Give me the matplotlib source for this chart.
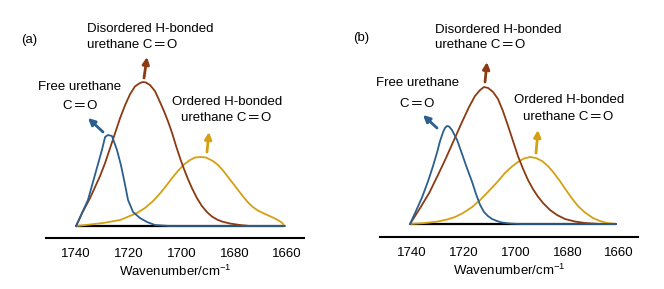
import matplotlib
matplotlib.use('Agg')
import matplotlib.pyplot as plt

plt.rcParams['font.family'] = ['Liberation Sans', 'DejaVu Sans']
plt.rcParams['mathtext.fontset'] = 'custom'
plt.rcParams['mathtext.rm'] = 'Liberation Sans'
plt.rcParams['mathtext.it'] = 'Liberation Sans:italic'

# ── Datos (panel a) ─────────────────────────────────────────────────
a_free_x = [1740, 1735.5, 1730.2, 1729.0, 1727.9, 1726.4, 1724.5, 1723.0, 1721.8,
            1720.3, 1718.4, 1715.8, 1713.1, 1710.1, 1704.4, 1661]
a_free_y = [0, 0.26, 0.76, 0.89, 0.91, 0.90, 0.76, 0.61, 0.46,
            0.26, 0.14, 0.08, 0.04, 0.01, 0, 0]

a_dis_x = [1740, 1737.7, 1734.7, 1730.9, 1729.0, 1727.1, 1725.2, 1723.3, 1721.4,
           1719.5, 1717.7, 1715.8, 1714.6, 1713.5, 1712.0, 1710.1, 1708.2, 1706.7,
           1705.2, 1703.6, 1702.1, 1700.6, 1699.1, 1697.6, 1696.1, 1694.2, 1692.3,
           1690.4, 1688.5, 1686.6, 1684.7, 1681.7, 1677.9, 1674.1, 1661]
a_dis_y = [0, 0.13, 0.28, 0.50, 0.63, 0.78, 0.93, 1.08, 1.21,
           1.32, 1.395, 1.43, 1.44, 1.435, 1.41, 1.35, 1.24, 1.15,
           1.05, 0.93, 0.80, 0.68, 0.57, 0.47, 0.38, 0.28, 0.20,
           0.14, 0.095, 0.065, 0.045, 0.025, 0.01, 0, 0]

a_ord_x = [1740, 1734.7, 1729.8, 1723.3, 1716.9, 1713.9, 1710.8, 1708.2, 1705.9,
           1703.6, 1701.4, 1699.1, 1696.8, 1694.9, 1692.7, 1690.8, 1688.1, 1686.2,
           1684.3, 1682.4, 1680.5, 1678.6, 1676.7, 1674.8, 1673.0, 1671.1, 1668.4,
           1665.8, 1663.9, 1662.0, 1661]
a_ord_y = [0, 0.015, 0.03, 0.06, 0.13, 0.18, 0.25, 0.325, 0.40,
           0.48, 0.55, 0.615, 0.66, 0.685, 0.69, 0.685, 0.65, 0.61,
           0.555, 0.49, 0.425, 0.36, 0.295, 0.235, 0.19, 0.155, 0.12,
           0.09, 0.065, 0.035, 0]

# ── Datos (panel b) ─────────────────────────────────────────────────
b_free_x = [1740.8, 1738.5, 1736.1, 1733.8, 1731.9, 1730.3, 1729.2, 1728.0, 1727.3,
            1726.5, 1725.7, 1724.6, 1722.6, 1720.7, 1718.8, 1716.8, 1715.3, 1713.7,
            1712.2, 1710.7, 1709.1, 1707.2, 1705.3, 1702.2, 1698.3, 1661.2]
b_free_y = [0, 0.13, 0.27, 0.43, 0.58, 0.72, 0.83, 0.92, 0.96,
            0.98, 0.975, 0.94, 0.84, 0.70, 0.56, 0.42, 0.30, 0.19,
            0.12, 0.08, 0.05, 0.03, 0.015, 0.005, 0, 0]

b_dis_x = [1740.8, 1736.9, 1733.4, 1730.0, 1726.9, 1723.8, 1720.7, 1718.0, 1715.7,
           1713.7, 1712.2, 1710.6, 1708.7, 1706.8, 1704.9, 1702.9, 1701.0, 1699.1,
           1697.1, 1695.2, 1693.3, 1691.4, 1689.4, 1686.7, 1684.0, 1680.9, 1677.1,
           1673.2, 1667.4, 1661.2]
b_dis_y = [0, 0.16, 0.31, 0.49, 0.66, 0.84, 1.02, 1.17, 1.28,
           1.34, 1.37, 1.36, 1.32, 1.25, 1.13, 0.98, 0.83, 0.68,
           0.55, 0.44, 0.35, 0.275, 0.21, 0.14, 0.09, 0.05, 0.025,
           0.01, 0, 0]

b_ord_x = [1740.8, 1735.0, 1730.0, 1726.5, 1723.4, 1720.3, 1716.8, 1713.7, 1710.7,
           1707.6, 1704.1, 1701.4, 1699.1, 1696.8, 1694.4, 1692.1, 1689.8, 1687.5,
           1685.2, 1682.9, 1680.5, 1678.2, 1675.9, 1673.2, 1670.1, 1667.4, 1664.7, 1661.2]
b_ord_y = [0, 0.01, 0.025, 0.045, 0.07, 0.11, 0.17, 0.24, 0.32,
           0.405, 0.51, 0.575, 0.62, 0.655, 0.67, 0.66, 0.63, 0.58,
           0.51, 0.43, 0.34, 0.255, 0.18, 0.115, 0.06, 0.03, 0.01, 0]

tick_vals = [1740, 1720, 1700, 1680, 1660]
co = 'C\u2009═\u2009O'

BLUE = '#2b5f8e'
BROWN = '#8b3a12'
GOLD = '#d4a012'
W, H = 664, 289
FS = 9.5


def fx(px):
    return px / W


def fy(py):
    return 1 - py / H


def panel(fig, rect, xlim, ylim, free, dis, ordd):
    ax = fig.add_axes(rect)
    x0, x1 = free[0][0], free[0][-1]
    ax.plot([x0, x1], [0, 0], color='black', lw=1.6, solid_capstyle='butt')
    ax.plot(ordd[0], ordd[1], color=GOLD, lw=1.3)
    ax.plot(dis[0], dis[1], color=BROWN, lw=1.3)
    ax.plot(free[0], free[1], color=BLUE, lw=1.3)
    ax.set_xlim(*xlim)
    ax.set_ylim(*ylim)
    for s in ['top', 'left', 'right']:
        ax.spines[s].set_visible(False)
    ax.spines['bottom'].set_linewidth(1.5)
    ax.set_yticks([])
    ax.set_xticks(tick_vals)
    ax.tick_params(axis='x', length=0, pad=7, labelsize=FS)
    ax.set_xlabel('Wavenumber/cm$^{-1}$', fontsize=FS, labelpad=3)
    ax.patch.set_alpha(0)
    return ax


def label(fig, px, py, s, ha='center'):
    fig.text(fx(px), fy(py), s, ha=ha, va='center', fontsize=FS)


def arrow(fig, tail, head, color):
    fig.add_artist(matplotlib.patches.FancyArrowPatch(
        (fx(tail[0]), fy(tail[1])), (fx(head[0]), fy(head[1])),
        transform=fig.transFigure, arrowstyle='-|>', mutation_scale=10,
        lw=2, color=color, shrinkA=0, shrinkB=0))


fig = plt.figure(figsize=(6.64, 2.89), dpi=100)

panel(fig, [fx(46), 1 - 238 / H, 258 / W, 218 / H], (1751.4, 1653.6), (-0.12, 2.06),
      (a_free_x, a_free_y), (a_dis_x, a_dis_y), (a_ord_x, a_ord_y))
panel(fig, [fx(380), 1 - 237 / H, 258 / W, 217 / H], (1752.4, 1652.7), (-0.13, 2.04),
      (b_free_x, b_free_y), (b_dis_x, b_dis_y), (b_ord_x, b_ord_y))

# ── Etiquetas panel (a) ──
label(fig, 29, 40, '(a)')
label(fig, 87, 29, 'Disordered H-bonded', ha='left')
label(fig, 87, 45, 'urethane ' + co, ha='left')
label(fig, 79.5, 87, 'Free urethane')
label(fig, 80, 106, co)
label(fig, 227, 102, 'Ordered H-bonded')
label(fig, 226, 118, 'urethane ' + co)
arrow(fig, (103, 132), (88, 118), BLUE)
arrow(fig, (144, 78), (147, 57), BROWN)
arrow(fig, (207, 152), (209, 132), GOLD)

# ── Etiquetas panel (b) ──
label(fig, 361, 38, '(b)')
label(fig, 435, 30, 'Disordered H-bonded', ha='left')
label(fig, 435, 45, 'urethane ' + co, ha='left')
label(fig, 418, 83, 'Free urethane')
label(fig, 417.5, 104, co)
label(fig, 569, 100, 'Ordered H-bonded')
label(fig, 568, 117, 'urethane ' + co)
arrow(fig, (437, 128), (423, 115), BLUE)
arrow(fig, (485, 82), (487, 62), BROWN)
arrow(fig, (536, 153), (538, 130), GOLD)

fig.savefig('out.png', dpi=100, facecolor='white')
plt.close(fig)
